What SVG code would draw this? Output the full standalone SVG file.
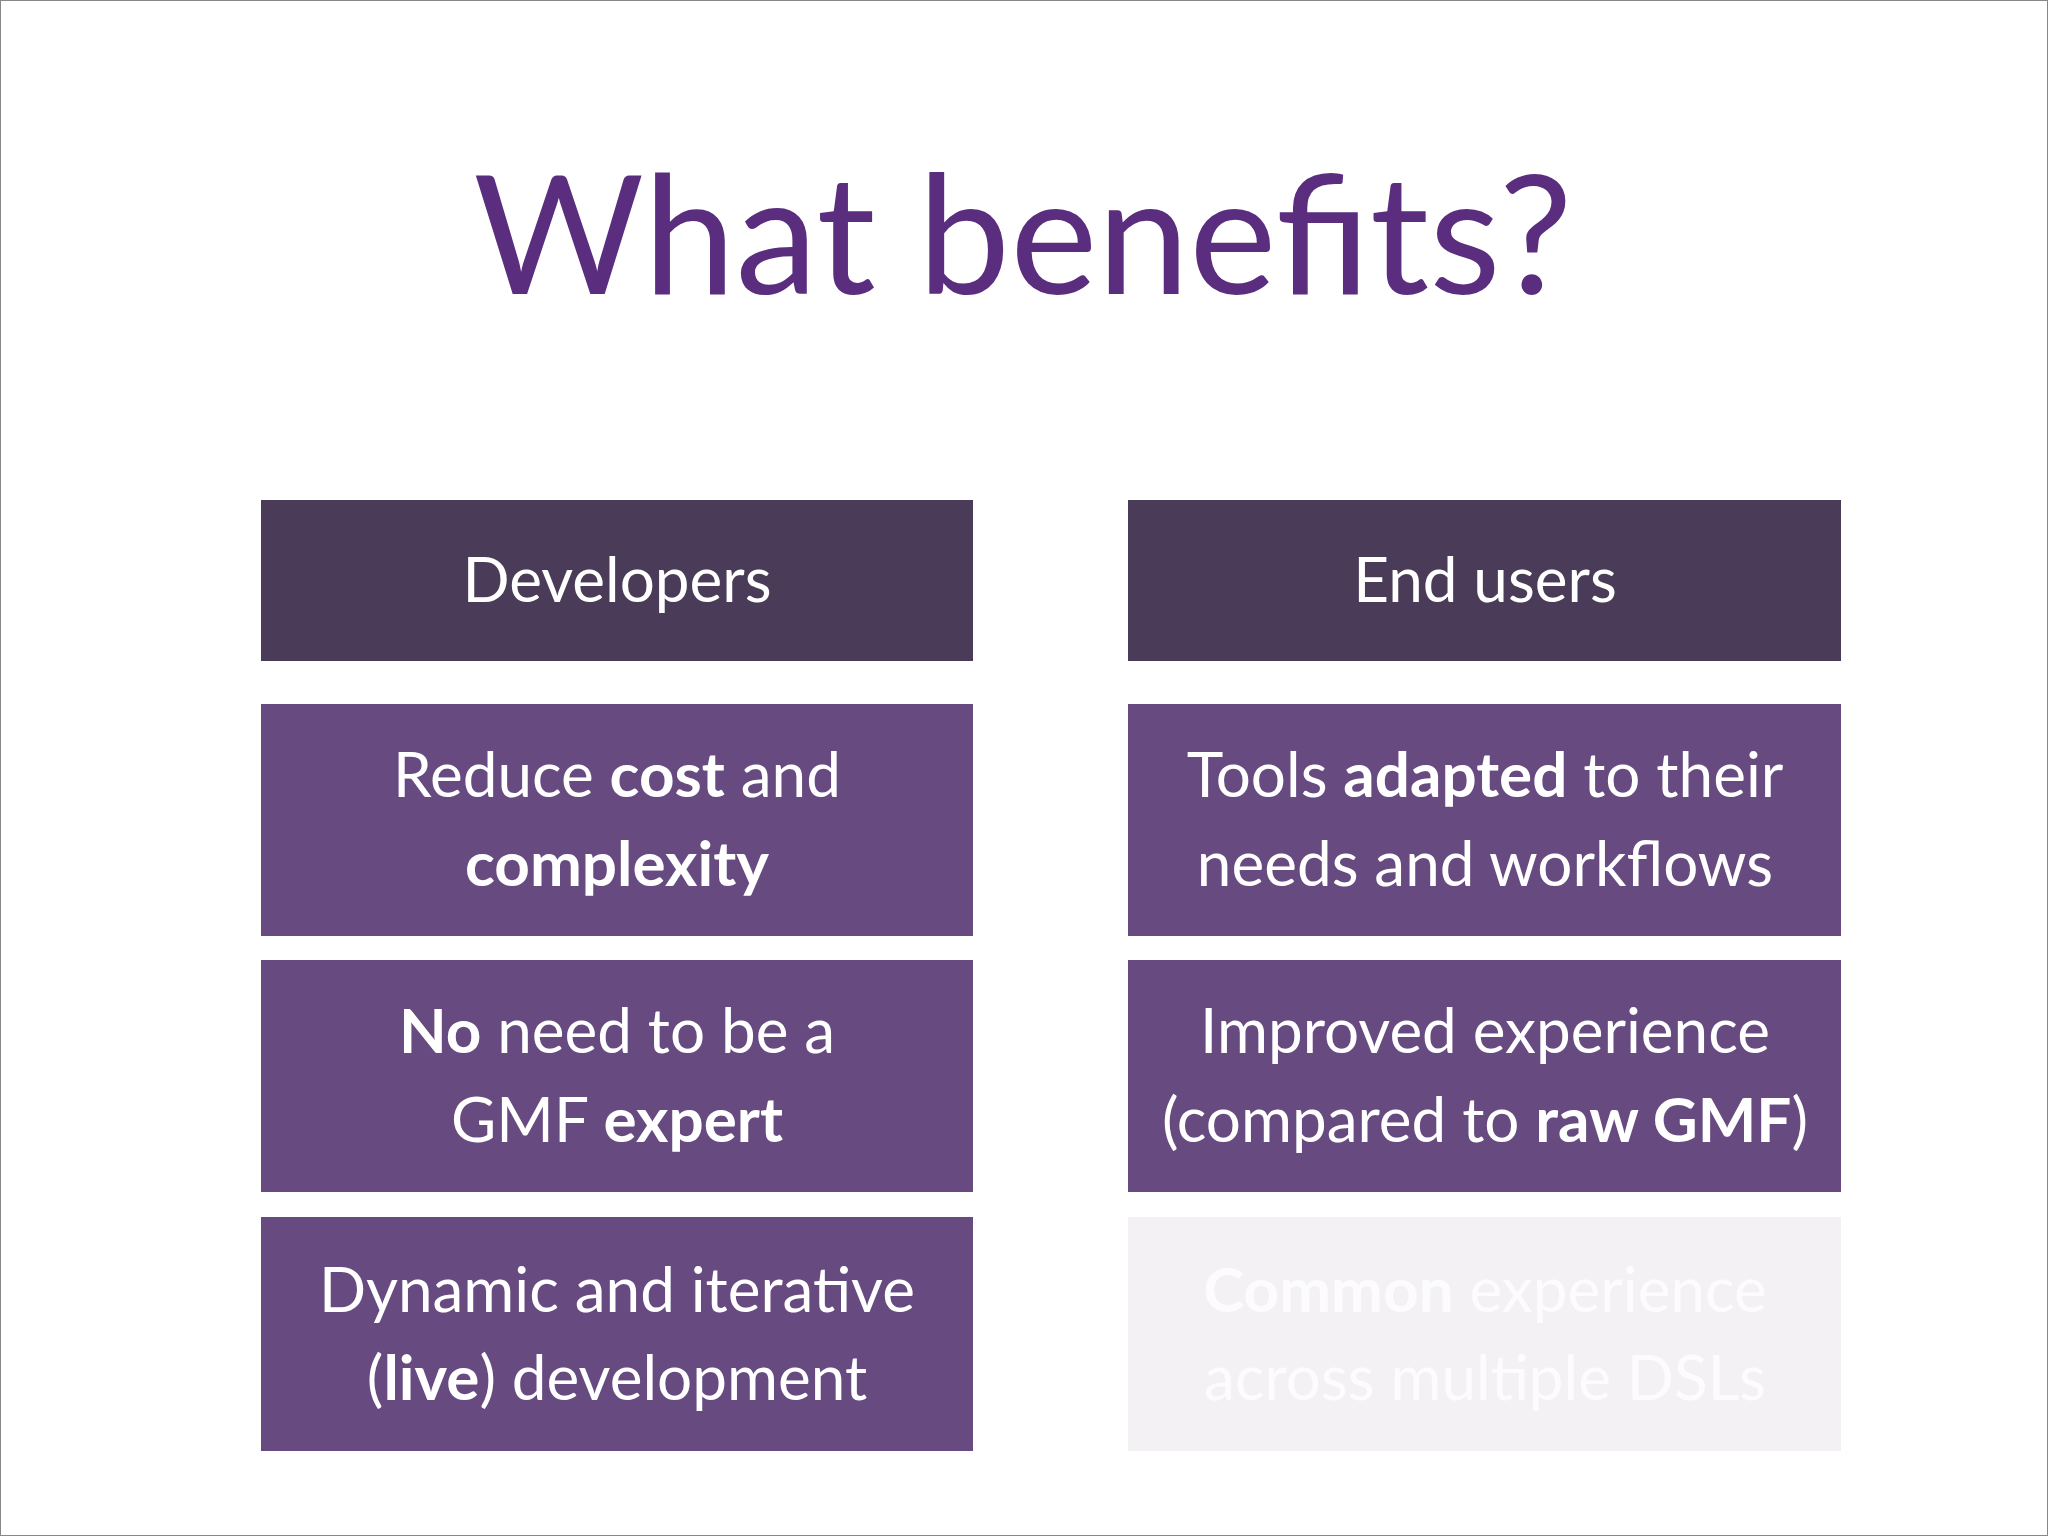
<svg xmlns="http://www.w3.org/2000/svg" width="2048" height="1536" viewBox="0 0 2048 1536">
<style>
.h{fill:#4a3c58}
.b{fill:#664a80}
.f{fill:#f4f1f5}
text{font-family:Lato,"Open Sans",sans-serif;font-size:62px;fill:#fff;text-anchor:middle}
.ft{fill:#fcfbfd}
b{font-weight:bold}
</style>
<rect x="0" y="0" width="2048" height="1536" fill="#fff" stroke="#888" stroke-width="2"/>
<text x="1023" y="294" style="font-size:165px;fill:#5a2d7e">What benefits?</text>
<g id="dev"><rect class="h" x="261" y="500" width="712" height="161"/><text x="617" y="602">Developers</text></g>
<g id="end"><rect class="h" x="1128" y="500" width="713" height="161"/><text x="1485" y="602">End users</text></g>
<g id="d1"><rect class="b" x="261" y="704" width="712" height="232"/>
<text x="617" y="797">Reduce <tspan font-weight="bold">cost</tspan> and</text>
<text x="617" y="886" font-weight="bold">complexity</text></g>
<g id="d2"><rect class="b" x="261" y="960" width="712" height="232"/>
<text x="617" y="1053"><tspan font-weight="bold">No</tspan> need to be a</text>
<text x="617" y="1142">GMF <tspan font-weight="bold">expert</tspan></text></g>
<g id="d3"><rect class="b" x="261" y="1217" width="712" height="234"/>
<text x="617" y="1312">Dynamic and iterative</text>
<text x="617" y="1400">(<tspan font-weight="bold">live</tspan>) development</text></g>
<g id="e1"><rect class="b" x="1128" y="704" width="713" height="232"/>
<text x="1485" y="797">Tools <tspan font-weight="bold">adapted</tspan> to their</text>
<text x="1485" y="886">needs and workflows</text></g>
<g id="e2"><rect class="b" x="1128" y="960" width="713" height="232"/>
<text x="1485" y="1053">Improved experience</text>
<text x="1485" y="1142">(compared to <tspan font-weight="bold">raw GMF</tspan>)</text></g>
<g id="e3"><rect class="f" x="1128" y="1217" width="713" height="234"/>
<text class="ft" x="1485" y="1312"><tspan font-weight="bold">Common</tspan> experience</text>
<text class="ft" x="1485" y="1400">across multiple DSLs</text></g>
<g id="connectors"/>
</svg>
